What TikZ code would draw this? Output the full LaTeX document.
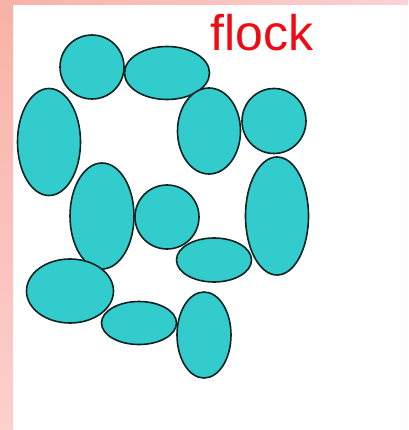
\documentclass[tikz,border=0pt]{standalone}
\usepackage{fontspec}
\setmainfont{Liberation Sans}
\usetikzlibrary{shapes.geometric}
\definecolor{birdfill}{RGB}{51,204,204}
\definecolor{birdline}{RGB}{15,35,35}
\definecolor{flockred}{RGB}{240,10,20}
\definecolor{bandtop}{RGB}{248,178,166}
\definecolor{bandlow}{RGB}{252,208,206}
\definecolor{bandright}{RGB}{252,210,214}
\tikzset{
  bird/.style={ellipse, draw=birdline, fill=birdfill, line width=1.6pt, inner sep=0pt},
}
\begin{document}
\begin{tikzpicture}[x=1pt, y=-1pt]
  \useasboundingbox (0,0) rectangle (408,430);
  % background
  \fill[white] (0,0) rectangle (408,430);
  \shade[top color=bandtop, bottom color=bandlow] (0,0) rectangle (13,430);
  \shade[left color=bandtop, right color=bandright] (0,0) rectangle (408,5);
  \fill[white!99!red] (403,5) rectangle (408,430);
  \node[font=\fontsize{50}{50}\selectfont, text=flockred, anchor=base, inner sep=0pt] (title) at (262,51) {flock};
  % birds
  \node[bird, minimum width=64pt, minimum height=64pt] (b1)  at (92,67)  {};
  \node[bird, minimum width=85pt, minimum height=53pt] (b2)  at (167,73) {};
  \node[bird, minimum width=63pt, minimum height=107pt] (b3) at (49,142) {};
  \node[bird, minimum width=63pt, minimum height=86pt] (b4)  at (209,131) {};
  \node[bird, minimum width=64pt, minimum height=65pt] (b5)  at (274,121) {};
  \node[bird, minimum width=64pt, minimum height=106pt] (b6) at (102,216) {};
  \node[bird, minimum width=64pt, minimum height=64pt] (b7)  at (167,217) {};
  \node[bird, minimum width=63pt, minimum height=118pt] (b8) at (277,216) {};
  \node[bird, minimum width=75pt, minimum height=44pt] (b9)  at (214,260) {};
  \node[bird, minimum width=87pt, minimum height=64pt] (b10) at (70,291) {};
  \node[bird, minimum width=75pt, minimum height=43pt] (b11) at (139,323) {};
  \node[bird, minimum width=54pt, minimum height=86pt] (b12) at (204,335) {};
\end{tikzpicture}
\end{document}
